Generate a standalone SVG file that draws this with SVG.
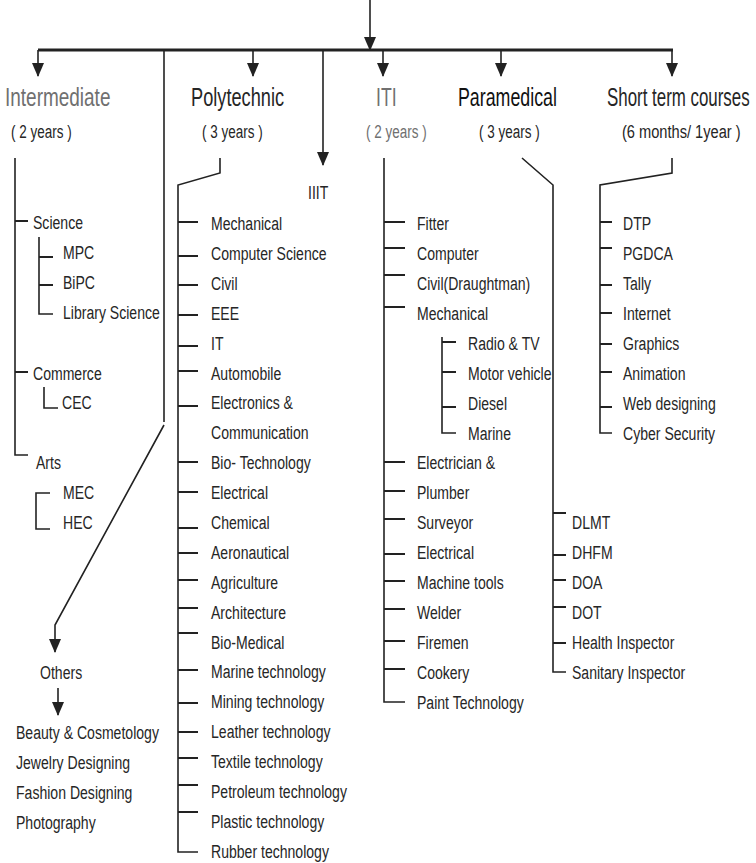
<svg xmlns="http://www.w3.org/2000/svg" width="756" height="863" viewBox="0 0 756 863">
<style>
text{font-family:"Liberation Sans",Arial,sans-serif;fill:#262626;}
.h{font-size:26px;}
.s{font-size:19px;}
.i{font-size:19px;}
.g{fill:#707070;}
.ln{stroke:#222;stroke-width:1.6;fill:none;}
.tk{stroke:#222;stroke-width:2;fill:none;}
</style>
<defs>
<marker id="ad" markerUnits="userSpaceOnUse" markerWidth="12" markerHeight="14" refX="6" refY="13" orient="0" viewBox="0 0 12 14">
<path d="M0,0 L12,0 L6,14 Z" fill="#222"/>
</marker>
</defs>

<g id="connectors">
<line class="ln" x1="370" y1="0" x2="370" y2="50" marker-end="url(#ad)"/>
<line x1="38" y1="50" x2="673" y2="50" stroke="#222" stroke-width="3.2"/>
<line class="ln" x1="38" y1="50" x2="38" y2="76" marker-end="url(#ad)"/>
<line class="ln" x1="253" y1="50" x2="253" y2="76" marker-end="url(#ad)"/>
<line class="ln" x1="383" y1="50" x2="383" y2="76" marker-end="url(#ad)"/>
<line class="ln" x1="501" y1="50" x2="501" y2="76" marker-end="url(#ad)"/>
<line class="ln" x1="672" y1="50" x2="672" y2="76" marker-end="url(#ad)"/>
<line class="ln" x1="323" y1="50" x2="323" y2="165" marker-end="url(#ad)"/>
<line class="ln" x1="164" y1="50" x2="164" y2="422"/>
<polyline class="ln" points="164,425 55,625 55,652" marker-end="url(#ad)"/>
<line class="ln" x1="58" y1="688" x2="58" y2="715" marker-end="url(#ad)"/>

<!-- Intermediate tree -->
<polyline class="ln" points="15,158 15,455 28,455"/>
<line class="tk" x1="15" y1="221" x2="28" y2="221"/>
<line class="tk" x1="15" y1="372" x2="28" y2="372"/>
<polyline class="ln" points="39,237 39,314 53,314"/>
<line class="tk" x1="39" y1="257" x2="53" y2="257"/>
<line class="tk" x1="39" y1="285" x2="53" y2="285"/>
<polyline class="ln" points="44,387 44,408 58,408"/>
<polyline class="ln" points="50,493 36,493 36,529 50,529"/>

<!-- Polytechnic tree -->
<polyline class="ln" points="220,158 220,173 178,185 178,852 198,852"/>
<g class="tk">
<line x1="178" y1="222" x2="198" y2="222"/>
<line x1="178" y1="256" x2="198" y2="256"/>
<line x1="178" y1="285" x2="198" y2="285"/>
<line x1="178" y1="315" x2="198" y2="315"/>
<line x1="178" y1="346" x2="198" y2="346"/>
<line x1="178" y1="371" x2="198" y2="371"/>
<line x1="178" y1="406" x2="198" y2="406"/>
<line x1="178" y1="462" x2="198" y2="462"/>
<line x1="178" y1="492" x2="198" y2="492"/>
<line x1="178" y1="528" x2="198" y2="528"/>
<line x1="178" y1="553" x2="198" y2="553"/>
<line x1="178" y1="580" x2="198" y2="580"/>
<line x1="178" y1="608" x2="198" y2="608"/>
<line x1="178" y1="633" x2="198" y2="633"/>
<line x1="178" y1="670" x2="198" y2="670"/>
<line x1="178" y1="703" x2="198" y2="703"/>
<line x1="178" y1="732" x2="198" y2="732"/>
<line x1="178" y1="758" x2="198" y2="758"/>
<line x1="178" y1="785" x2="198" y2="785"/>
<line x1="178" y1="812" x2="198" y2="812"/>
</g>

<!-- ITI tree -->
<polyline class="ln" points="384,158 384,702 405,702"/>
<g class="tk">
<line x1="384" y1="222" x2="405" y2="222"/>
<line x1="384" y1="248" x2="405" y2="248"/>
<line x1="384" y1="275" x2="405" y2="275"/>
<line x1="384" y1="307" x2="405" y2="307"/>
<line x1="384" y1="462" x2="405" y2="462"/>
<line x1="384" y1="491" x2="405" y2="491"/>
<line x1="384" y1="519" x2="405" y2="519"/>
<line x1="384" y1="554" x2="405" y2="554"/>
<line x1="384" y1="581" x2="405" y2="581"/>
<line x1="384" y1="609" x2="405" y2="609"/>
<line x1="384" y1="641" x2="405" y2="641"/>
<line x1="384" y1="669" x2="405" y2="669"/>
</g>
<polyline class="ln" points="442,337 442,433 456,433"/>
<line class="tk" x1="442" y1="342" x2="456" y2="342"/>
<line class="tk" x1="442" y1="372" x2="456" y2="372"/>
<line class="tk" x1="442" y1="407" x2="456" y2="407"/>

<!-- Paramedical tree -->
<polyline class="ln" points="522,158 553,185 553,672 566,672"/>
<g class="tk">
<line x1="553" y1="513" x2="566" y2="513"/>
<line x1="553" y1="555" x2="566" y2="555"/>
<line x1="553" y1="580" x2="566" y2="580"/>
<line x1="553" y1="607" x2="566" y2="607"/>
<line x1="553" y1="643" x2="566" y2="643"/>
</g>

<!-- Short term tree -->
<polyline class="ln" points="672,158 672,173 600,185 600,433 612,433"/>
<g class="tk">
<line x1="600" y1="222" x2="612" y2="222"/>
<line x1="600" y1="248" x2="612" y2="248"/>
<line x1="600" y1="285" x2="612" y2="285"/>
<line x1="600" y1="313" x2="612" y2="313"/>
<line x1="600" y1="344" x2="612" y2="344"/>
<line x1="600" y1="372" x2="612" y2="372"/>
<line x1="600" y1="407" x2="612" y2="407"/>
</g>
</g>

<g id="intermediate">
<text class="h g" transform="translate(5 106) scale(.73 1)">Intermediate</text>
<text class="s" transform="translate(11 138) scale(.71 1)">( 2 years )</text>
<text class="i" transform="translate(33 229) scale(.74 1)">Science</text>
<text class="i" transform="translate(63 259) scale(.74 1)">MPC</text>
<text class="i" transform="translate(63 289) scale(.74 1)">BiPC</text>
<text class="i" transform="translate(63 319) scale(.74 1)">Library Science</text>
<text class="i" transform="translate(33 380) scale(.74 1)">Commerce</text>
<text class="i" transform="translate(62 409) scale(.74 1)">CEC</text>
<text class="i" transform="translate(36 469) scale(.74 1)">Arts</text>
<text class="i" transform="translate(63 499) scale(.74 1)">MEC</text>
<text class="i" transform="translate(63 529) scale(.74 1)">HEC</text>
</g>

<g id="others">
<text class="i" transform="translate(40 679) scale(.74 1)">Others</text>
<text class="i" transform="translate(16 739) scale(.74 1)">Beauty &amp; Cosmetology</text>
<text class="i" transform="translate(16 769) scale(.74 1)">Jewelry Designing</text>
<text class="i" transform="translate(16 799) scale(.74 1)">Fashion Designing</text>
<text class="i" transform="translate(16 829) scale(.74 1)">Photography</text>
</g>

<g id="polytechnic">
<text class="h" transform="translate(191 106) scale(.7 1)">Polytechnic</text>
<text class="s" transform="translate(202 138) scale(.71 1)">( 3 years )</text>
<text class="i" transform="translate(211 230) scale(.74 1)">Mechanical</text>
<text class="i" transform="translate(211 260) scale(.74 1)">Computer Science</text>
<text class="i" transform="translate(211 290) scale(.74 1)">Civil</text>
<text class="i" transform="translate(211 320) scale(.74 1)">EEE</text>
<text class="i" transform="translate(211 350) scale(.74 1)">IT</text>
<text class="i" transform="translate(211 380) scale(.74 1)">Automobile</text>
<text class="i" transform="translate(211 409) scale(.74 1)">Electronics &amp;</text>
<text class="i" transform="translate(211 439) scale(.74 1)">Communication</text>
<text class="i" transform="translate(211 469) scale(.74 1)">Bio- Technology</text>
<text class="i" transform="translate(211 499) scale(.74 1)">Electrical</text>
<text class="i" transform="translate(211 529) scale(.74 1)">Chemical</text>
<text class="i" transform="translate(211 559) scale(.74 1)">Aeronautical</text>
<text class="i" transform="translate(211 589) scale(.74 1)">Agriculture</text>
<text class="i" transform="translate(211 619) scale(.74 1)">Architecture</text>
<text class="i" transform="translate(211 649) scale(.74 1)">Bio-Medical</text>
<text class="i" transform="translate(211 678) scale(.74 1)">Marine technology</text>
<text class="i" transform="translate(211 708) scale(.74 1)">Mining technology</text>
<text class="i" transform="translate(211 738) scale(.74 1)">Leather technology</text>
<text class="i" transform="translate(211 768) scale(.74 1)">Textile technology</text>
<text class="i" transform="translate(211 798) scale(.74 1)">Petroleum technology</text>
<text class="i" transform="translate(211 828) scale(.74 1)">Plastic technology</text>
<text class="i" transform="translate(211 858) scale(.74 1)">Rubber technology</text>
</g>

<g id="iiit">
<text class="i" transform="translate(308 199) scale(.74 1)">IIIT</text>
</g>

<g id="iti">
<text class="h g" transform="translate(376 106) scale(.68 1)">ITI</text>
<text class="s g" transform="translate(366 138) scale(.71 1)">( 2 years )</text>
<text class="i" transform="translate(417 230) scale(.74 1)">Fitter</text>
<text class="i" transform="translate(417 260) scale(.74 1)">Computer</text>
<text class="i" transform="translate(417 290) scale(.74 1)">Civil(Draughtman)</text>
<text class="i" transform="translate(417 320) scale(.74 1)">Mechanical</text>
<text class="i" transform="translate(468 350) scale(.74 1)">Radio &amp; TV</text>
<text class="i" transform="translate(468 380) scale(.74 1)">Motor vehicle</text>
<text class="i" transform="translate(468 410) scale(.74 1)">Diesel</text>
<text class="i" transform="translate(468 440) scale(.74 1)">Marine</text>
<text class="i" transform="translate(417 469) scale(.74 1)">Electrician &amp;</text>
<text class="i" transform="translate(417 499) scale(.74 1)">Plumber</text>
<text class="i" transform="translate(417 529) scale(.74 1)">Surveyor</text>
<text class="i" transform="translate(417 559) scale(.74 1)">Electrical</text>
<text class="i" transform="translate(417 589) scale(.74 1)">Machine tools</text>
<text class="i" transform="translate(417 619) scale(.74 1)">Welder</text>
<text class="i" transform="translate(417 649) scale(.74 1)">Firemen</text>
<text class="i" transform="translate(417 679) scale(.74 1)">Cookery</text>
<text class="i" transform="translate(417 709) scale(.74 1)">Paint Technology</text>
</g>

<g id="paramedical">
<text class="h" style="fill:#111" transform="translate(458 106) scale(.685 1)">Paramedical</text>
<text class="s" transform="translate(479 138) scale(.71 1)">( 3 years )</text>
<text class="i" transform="translate(572 529) scale(.74 1)">DLMT</text>
<text class="i" transform="translate(572 559) scale(.74 1)">DHFM</text>
<text class="i" transform="translate(572 589) scale(.74 1)">DOA</text>
<text class="i" transform="translate(572 619) scale(.74 1)">DOT</text>
<text class="i" transform="translate(572 649) scale(.74 1)">Health Inspector</text>
<text class="i" transform="translate(572 679) scale(.74 1)">Sanitary Inspector</text>
</g>

<g id="short-term">
<text class="h" transform="translate(607 106) scale(.65 1)">Short term courses</text>
<text class="s" transform="translate(622 138) scale(.77 1)">(6 months/ 1year )</text>
<text class="i" transform="translate(623 230) scale(.74 1)">DTP</text>
<text class="i" transform="translate(623 260) scale(.74 1)">PGDCA</text>
<text class="i" transform="translate(623 290) scale(.74 1)">Tally</text>
<text class="i" transform="translate(623 320) scale(.74 1)">Internet</text>
<text class="i" transform="translate(623 350) scale(.74 1)">Graphics</text>
<text class="i" transform="translate(623 380) scale(.74 1)">Animation</text>
<text class="i" transform="translate(623 410) scale(.74 1)">Web designing</text>
<text class="i" transform="translate(623 440) scale(.74 1)">Cyber Security</text>
</g>
</svg>
